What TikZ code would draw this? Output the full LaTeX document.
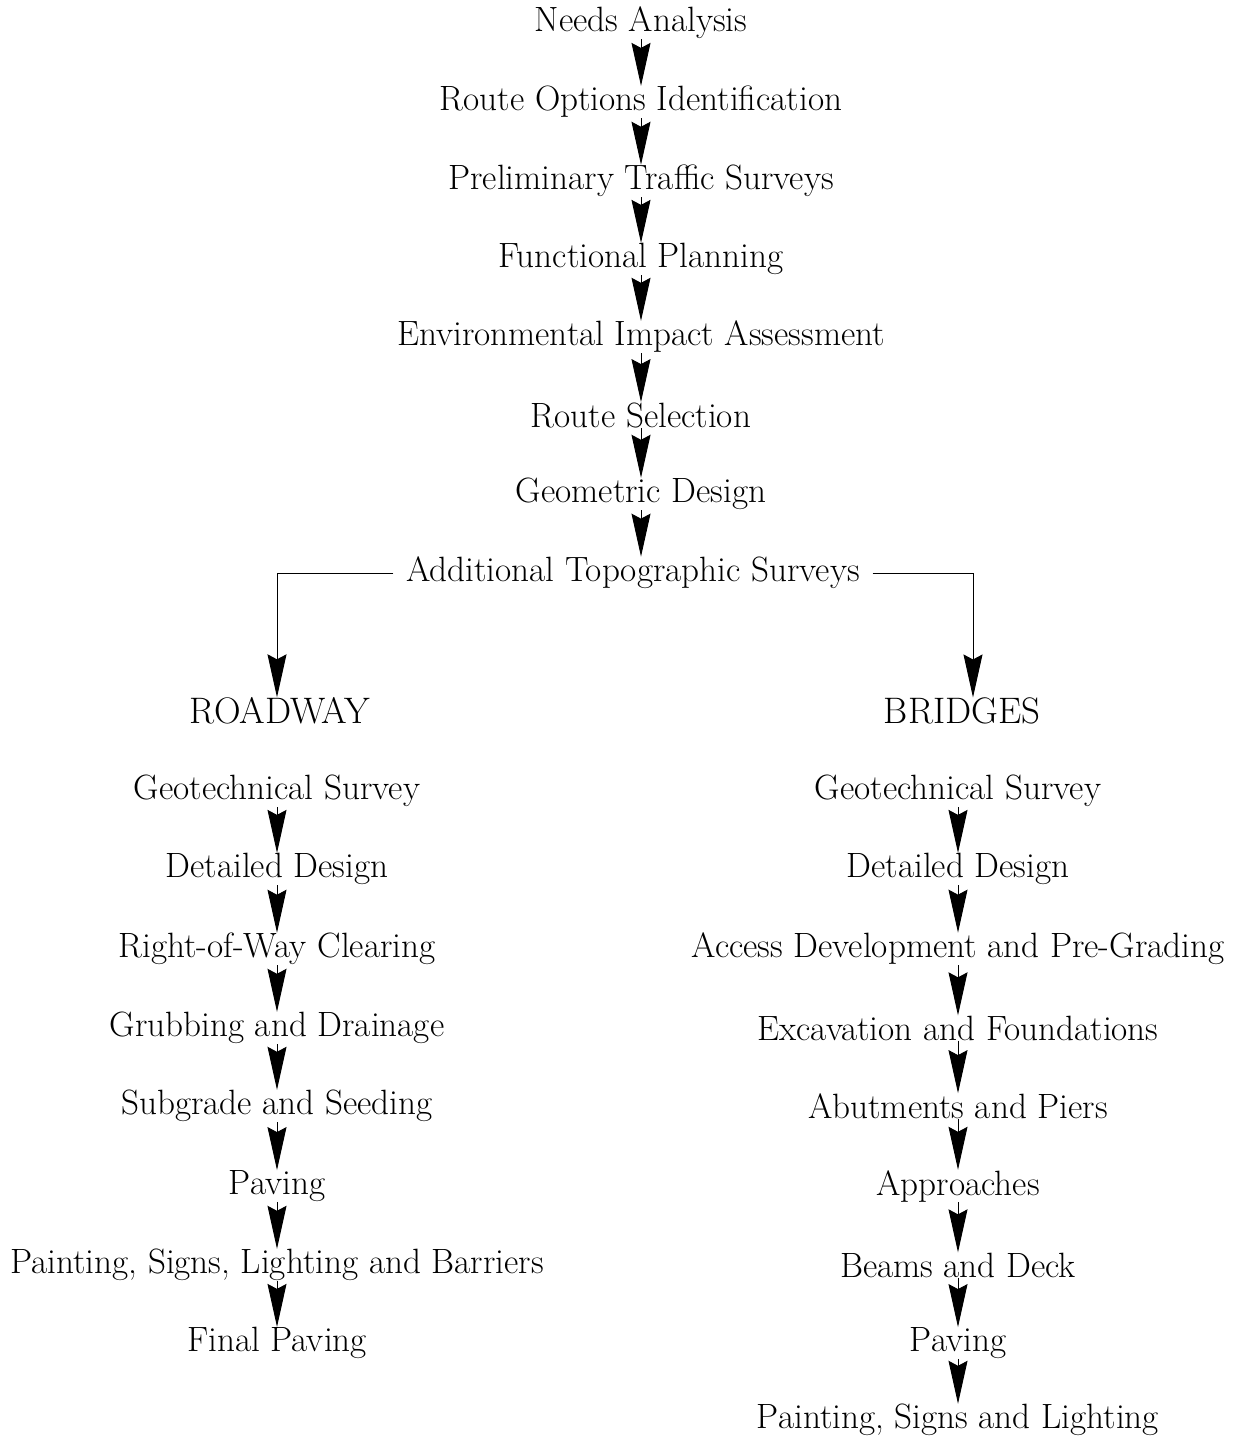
\documentclass[tikz,border=0pt]{standalone}
\usepackage{tikz}
\usetikzlibrary{arrows.meta,positioning}

\tikzset{
  stage/.style={inner sep=0pt, font=\fontsize{20}{24}\selectfont},
  branch/.style={inner sep=0pt, font=\fontsize{21}{24}\selectfont},
  flow/.style={line width=0.55pt, -{Stealth[length=0.86cm, width=0.38cm, inset=0.1cm]}}
}

\begin{document}
\begin{tikzpicture}[x=0.02cm, y=-0.02cm]
\useasboundingbox (0,0) rectangle (1243,1440);

% main sequence
\node[stage] (n1) at (641,23)  {Needs Analysis};
\node[stage] (n2) at (641,102) {Route Options Identification};
\node[stage] (n3) at (641,181) {Preliminary Traffic Surveys};
\node[stage] (n4) at (641,259) {Functional Planning};
\node[stage] (n5) at (641,337) {Environmental Impact Assessment};
\node[stage] (n6) at (641,415) {Route Selection};
\node[stage] (n7) at (641,494) {Geometric Design};
\node[stage, inner xsep=0.25cm] (n8) at (633,573) {Additional Topographic Surveys};

\foreach \a/\b in {n1/n2,n2/n3,n3/n4,n4/n5,n5/n6,n6/n7} \draw[flow] (\a) -- (\b);
\draw[flow] (n7) -- (n7 |- n8.north);

% the two branches
\node[branch] (road) at (280,711) {ROADWAY};
\node[branch] (brid) at (962,711) {BRIDGES};

\draw[flow] (n8.west) -| ([xshift=-0.06cm]road.north);
\draw[flow] (n8.east) -| ([xshift=0.22cm]brid.north);

% roadway
\node[stage] (r1) at (277,791)  {Geotechnical Survey};
\node[stage] (r2) at (277,869)  {Detailed Design};
\node[stage] (r3) at (277,949)  {Right-of-Way Clearing};
\node[stage] (r4) at (277,1028) {Grubbing and Drainage};
\node[stage] (r5) at (277,1106) {Subgrade and Seeding};
\node[stage] (r6) at (277,1186) {Paving};
\node[stage] (r7) at (277,1265) {Painting, Signs, Lighting and Barriers};
\node[stage] (r8) at (277,1343) {Final Paving};

\foreach \a/\b in {r1/r2,r2/r3,r3/r4,r4/r5,r5/r6,r6/r7,r7/r8} \draw[flow] (\a) -- (\b);

% bridges
\node[stage] (b1) at (958,791)  {Geotechnical Survey};
\node[stage] (b2) at (958,869)  {Detailed Design};
\node[stage] (b3) at (958,949)  {Access Development and Pre-Grading};
\node[stage] (b4) at (958,1028) {Excavation and Foundations};
\node[stage] (b5) at (958,1106) {Abutments and Piers};
\node[stage] (b6) at (958,1186) {Approaches};
\node[stage] (b7) at (958,1265) {Beams and Deck};
\node[stage] (b8) at (958,1343) {Paving};
\node[stage] (b9) at (958,1420) {Painting, Signs and Lighting};

\foreach \a/\b in {b1/b2,b2/b3,b3/b4,b4/b5,b5/b6,b6/b7,b7/b8,b8/b9} \draw[flow] (\a) -- (\b);

\end{tikzpicture}
\end{document}
